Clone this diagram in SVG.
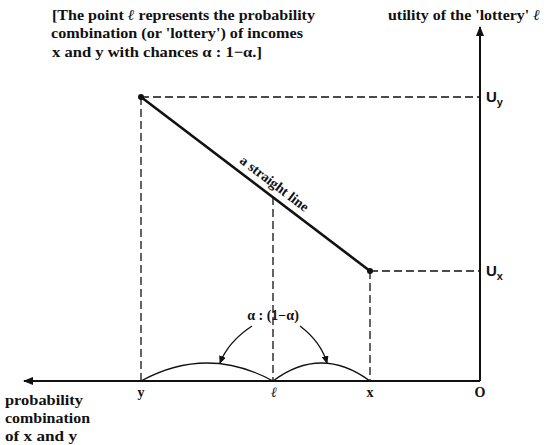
<svg xmlns="http://www.w3.org/2000/svg" width="546" height="445" viewBox="0 0 546 445">
<style>
text{font-family:"Liberation Serif","Times New Roman",serif;font-weight:bold;fill:#111}
.t{font-size:15px}
.lab{font-size:14px}
.u{font-family:"Liberation Sans",Arial,sans-serif;font-weight:bold;font-size:15px}
.d{stroke:#111;stroke-width:1.3;stroke-dasharray:8 4;fill:none}
.ax{stroke:#111;stroke-width:2;fill:none}
.c{stroke:#111;stroke-width:1.3;fill:none}
</style>
<defs>
<marker id="ah" markerWidth="10" markerHeight="8" refX="9" refY="4" orient="auto" markerUnits="userSpaceOnUse">
<path d="M0,0 L10,4 L0,8 z" fill="#111"/>
</marker>
<marker id="sh" markerWidth="8" markerHeight="7" refX="7" refY="3.5" orient="auto" markerUnits="userSpaceOnUse">
<path d="M0,0 L8,3.5 L0,7 z" fill="#111"/>
</marker>
</defs>
<g id="connectors">
<path class="ax" d="M480,381 L480,27" marker-end="url(#ah)"/>
<path class="ax" d="M480,381 L24,381" marker-end="url(#ah)"/>
<path class="d" d="M141,97 L480,97"/>
<path class="d" d="M370,271 L480,271"/>
<path class="d" d="M141,97 L141,381"/>
<path class="d" d="M273,197 L273,381"/>
<path class="d" d="M370,271 L370,381"/>
<path d="M141,97 L370,271" stroke="#111" stroke-width="2.6" fill="none"/>
<path class="c" d="M141,381 Q207,345 273,381"/>
<path class="c" d="M273,381 Q321,345 370,381"/>
<path class="c" d="M252,326 Q228,342 220,363" marker-end="url(#sh)"/>
<path class="c" d="M300,326 Q321,342 327,363" marker-end="url(#sh)"/>
</g>
<g id="point-y"><circle cx="141" cy="97" r="3" fill="#111"/></g>
<g id="point-x"><circle cx="370" cy="271" r="3" fill="#111"/></g>
<g id="label-straight">
<text class="lab" transform="translate(268,192) rotate(37.2)" text-anchor="middle" dy="-6">a straight line</text>
</g>
<g id="note">
<text class="t" x="52" y="20" textLength="263" lengthAdjust="spacingAndGlyphs">[The point <tspan font-style="italic">ℓ</tspan> represents the probability</text>
<text class="t" x="51" y="38" textLength="252" lengthAdjust="spacingAndGlyphs">combination (or 'lottery') of incomes</text>
<text class="t" x="52" y="57" textLength="210" lengthAdjust="spacingAndGlyphs">x and y with chances  α :  1−α.]</text>
</g>
<g id="y-axis-label"><text class="t" x="388" y="20" textLength="152" lengthAdjust="spacingAndGlyphs">utility of the 'lottery' <tspan font-style="italic">ℓ</tspan></text></g>
<g id="Uy"><text class="u" x="486" y="102">U<tspan font-size="11" dy="4">y</tspan></text></g>
<g id="Ux"><text class="u" x="486" y="276">U<tspan font-size="11" dy="4">x</tspan></text></g>
<g id="ratio"><text class="lab" x="273" y="320" text-anchor="middle">α : (1−α)</text></g>
<g id="axis-labels">
<text class="lab" x="141" y="397" text-anchor="middle">y</text>
<text class="lab" x="274" y="397" text-anchor="middle" font-style="italic">ℓ</text>
<text class="lab" x="370" y="397" text-anchor="middle">x</text>
<text class="lab" x="480" y="397" text-anchor="middle">O</text>
</g>
<g id="x-axis-label">
<text class="t" x="5" y="405" textLength="78" lengthAdjust="spacingAndGlyphs">probability</text>
<text class="t" x="5" y="423" textLength="85" lengthAdjust="spacingAndGlyphs">combination</text>
<text class="t" x="5" y="441" textLength="72" lengthAdjust="spacingAndGlyphs">of x and y</text>
</g>
</svg>
